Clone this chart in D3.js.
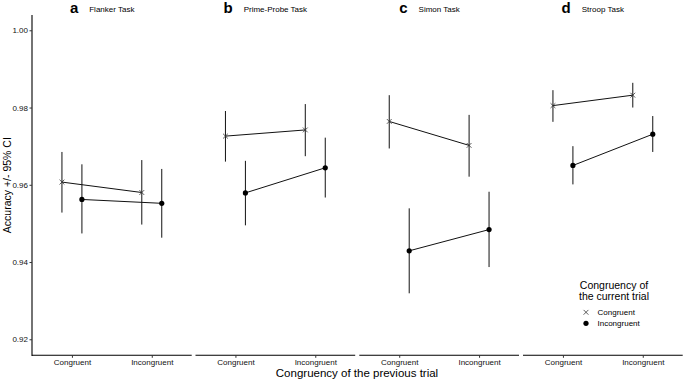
<!DOCTYPE html>
<html>
<head>
<meta charset="utf-8">
<script src="https://cdn.jsdelivr.net/npm/d3@7"></script>
<style>
  body { margin: 0; background: #fff; }
  text { font-family: "Liberation Sans", Arial, sans-serif; }
</style>
</head>
<body>
<div id="wrapper"></div>
<script>
// data
const tasks = ["Flanker Task", "Prime-Probe Task", "Simon Task", "Stroop Task"];
const letters = ["a", "b", "c", "d"];
const previous = ["Congruent", "Incongruent"];
const current = ["Congruent", "Incongruent"];
const yTicks = [0.92, 0.94, 0.96, 0.98, 1.00];

// [task][previous] for each current trial type
const congMean = [[0.9607, 0.9580], [0.9726, 0.9742], [0.9764, 0.9702], [0.9805, 0.9832]];
const congLow  = [[0.9528, 0.9497], [0.9660, 0.9674], [0.9694, 0.9621], [0.9763, 0.9800]];
const congHigh = [[0.9685, 0.9664], [0.9791, 0.9809], [0.9832, 0.9781], [0.9845, 0.9864]];
const incMean  = [[0.9562, 0.9552], [0.9579, 0.9644], [0.9429, 0.9484], [0.9650, 0.9731]];
const incLow   = [[0.9474, 0.9463], [0.9495, 0.9567], [0.9319, 0.9387], [0.9601, 0.9685]];
const incHigh  = [[0.9653, 0.9641], [0.9662, 0.9722], [0.9539, 0.9582], [0.9700, 0.9778]];

function drawChart() {
  const width = 684, height = 379;
  const svg = d3.select("#wrapper").append("svg")
    .attr("width", width).attr("height", height);

  const panelLeft = [32, 195.5, 359.3, 523];
  const panelW = 159.7;
  const top = 15, bottom = 355.3;

  const y = d3.scaleLinear().domain([0.91585, 1.00396]).range([bottom, top]);

  // y axis
  const yAxis = svg.append("g")
    .attr("transform", `translate(${panelLeft[0]},0)`)
    .call(d3.axisLeft(y).tickValues(yTicks).tickFormat(d3.format(".2f")).tickSize(2.5).tickPadding(1.5));
  yAxis.select(".domain").attr("d", `M0,${top}V${bottom + 0.6}`).attr("stroke", "#000").attr("stroke-width", 1.1);
  yAxis.selectAll(".tick line").attr("stroke", "#333");
  yAxis.selectAll(".tick text").attr("font-size", 8).attr("fill", "#111")
    .style("font-family", "Liberation Sans, Arial, sans-serif");

  svg.append("text")
    .attr("transform", `translate(10.5,${(top + bottom) / 2}) rotate(-90)`)
    .attr("text-anchor", "middle")
    .attr("font-size", 10.5)
    .text("Accuracy +/- 95% CI");

  const groups = [
    { mean: congMean, low: congLow, high: congHigh, shape: "cross", side: -1 },
    { mean: incMean, low: incLow, high: incHigh, shape: "dot", side: 1 }
  ];

  tasks.forEach((task, t) => {
    const x0 = panelLeft[t], x1 = x0 + panelW;
    const x = d3.scalePoint().domain(previous).range([x0, x1]).padding(0.5);
    const dodge = x.step() * 0.125;
    const g = svg.append("g");

    // x axis
    const xAxis = g.append("g")
      .attr("transform", `translate(0,${bottom})`)
      .call(d3.axisBottom(x).tickSize(2.5).tickPadding(1.5));
    xAxis.select(".domain").attr("d", `M${x0},0H${x1}`).attr("stroke", "#000").attr("stroke-width", 1.1);
    xAxis.selectAll(".tick line").attr("stroke", "#333");
    xAxis.selectAll(".tick text").attr("font-size", 8).attr("fill", "#111")
      .style("font-family", "Liberation Sans, Arial, sans-serif");

    groups.forEach(grp => {
      const pts = previous.map((p, i) => ({
        x: x(p) + grp.side * dodge,
        m: grp.mean[t][i], lo: grp.low[t][i], hi: grp.high[t][i]
      }));
      g.append("path")
        .attr("d", d3.line().x(d => d.x).y(d => y(d.m))(pts))
        .attr("fill", "none").attr("stroke", "#111").attr("stroke-width", 1);
      g.selectAll(null).data(pts).enter().append("line")
        .attr("x1", d => d.x).attr("x2", d => d.x)
        .attr("y1", d => y(d.lo)).attr("y2", d => y(d.hi))
        .attr("stroke", "#111").attr("stroke-width", 1);
      if (grp.shape === "dot") {
        g.selectAll(null).data(pts).enter().append("circle")
          .attr("cx", d => d.x).attr("cy", d => y(d.m)).attr("r", 2.6).attr("fill", "#000");
      } else {
        g.selectAll(null).data(pts).enter().append("path")
          .attr("d", d => { const s = 2.4, cx = d.x, cy = y(d.m);
            return `M${cx - s},${cy - s}L${cx + s},${cy + s}M${cx - s},${cy + s}L${cx + s},${cy - s}`; })
          .attr("stroke", "#333").attr("stroke-width", 0.8);
      }
    });

    // title + letter
    const title = g.append("text")
      .attr("x", (x0 + x1) / 2).attr("y", 11.5)
      .attr("text-anchor", "middle").attr("font-size", 8)
      .text(task);
    const tw = title.node().getComputedTextLength();
    g.append("text")
      .attr("x", (x0 + x1) / 2 - tw / 2 - 11).attr("y", 13)
      .attr("text-anchor", "end").attr("font-size", 15).attr("font-weight", "bold")
      .text(letters[t]);
  });

  svg.append("text")
    .attr("x", 357).attr("y", 376.5)
    .attr("text-anchor", "middle").attr("font-size", 11.5)
    .text("Congruency of the previous trial");

  // legend
  const lg = svg.append("g");
  lg.append("text").attr("x", 614).attr("y", 288.5).attr("text-anchor", "middle")
    .attr("font-size", 10.5).text("Congruency of");
  lg.append("text").attr("x", 614).attr("y", 299.5).attr("text-anchor", "middle")
    .attr("font-size", 10.5).text("the current trial");
  current.forEach((c, i) => {
    const cy = 312.3 + i * 11, cx = 586;
    if (i === 0) {
      const s = 2.4;
      lg.append("path")
        .attr("d", `M${cx - s},${cy - s}L${cx + s},${cy + s}M${cx - s},${cy + s}L${cx + s},${cy - s}`)
        .attr("stroke", "#333").attr("stroke-width", 0.8);
    } else {
      lg.append("circle").attr("cx", cx).attr("cy", cy).attr("r", 2.6).attr("fill", "#000");
    }
    lg.append("text").attr("x", 597.5).attr("y", cy + 3).attr("font-size", 8).text(c);
  });
}

drawChart();
</script>
</body>
</html>
